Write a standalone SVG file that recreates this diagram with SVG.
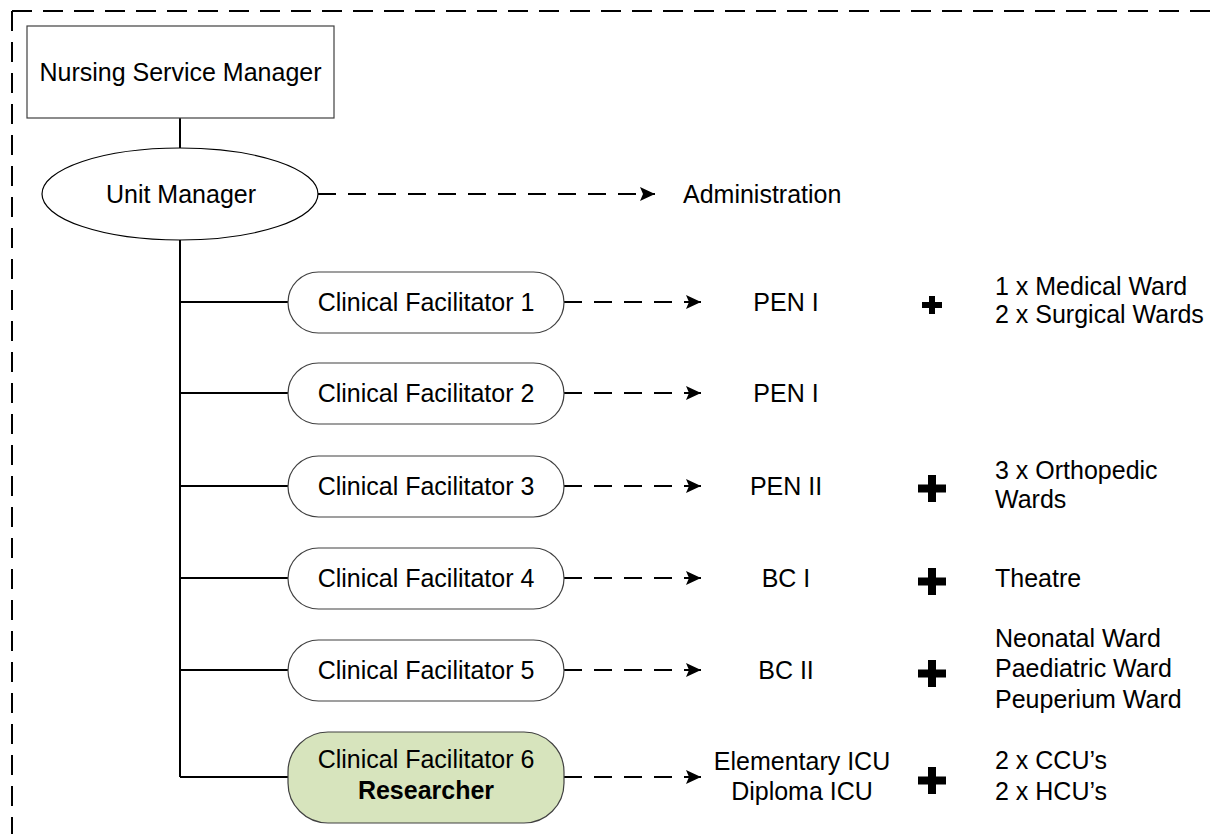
<svg xmlns="http://www.w3.org/2000/svg" width="1220" height="834" viewBox="0 0 1220 834">
<style>
text{font-family:"Liberation Sans",Arial,sans-serif;font-size:25px;fill:#000}
.c{text-anchor:middle}
.b{font-weight:bold}
.pill{fill:#fff;stroke:#404040;stroke-width:1.2}
.solid{stroke:#000;stroke-width:2;fill:none}
.dash{stroke:#000;stroke-width:2;fill:none;stroke-dasharray:18 12;marker-end:url(#ah)}
.plus{fill:#000}
</style>
<defs>
<marker id="ah" markerUnits="userSpaceOnUse" markerWidth="16" markerHeight="14" refX="15" refY="7" orient="auto">
<path d="M0,0 L15,7 L0,14 L3,7 Z" fill="#000"/>
</marker>
</defs>
<rect width="1220" height="834" fill="#fff"/>
<g id="frame" fill="none" stroke="#000" stroke-width="2" stroke-dasharray="20 11">
<path d="M12,11 V834"/>
<path d="M12,11 H1220"/>
</g>
<g id="connectors">
<path class="solid" d="M180,118 V148"/>
<path class="solid" d="M180,240 V777"/>
<path class="solid" d="M180,302 H288"/>
<path class="solid" d="M180,393 H288"/>
<path class="solid" d="M180,486 H288"/>
<path class="solid" d="M180,578 H288"/>
<path class="solid" d="M180,670 H288"/>
<path class="solid" d="M180,777 H288"/>
<path class="dash" d="M318,194 H655"/>
<path class="dash" d="M564,302 H701"/>
<path class="dash" d="M564,393 H701"/>
<path class="dash" d="M564,486 H701"/>
<path class="dash" d="M564,578 H701"/>
<path class="dash" d="M564,670 H701"/>
<path class="dash" d="M564,777 H701"/>
</g>
<g id="nsm">
<rect x="27" y="26" width="307" height="92" fill="#fff" stroke="#404040" stroke-width="1.2"/>
<text class="c" x="180.5" y="81">Nursing Service Manager</text>
</g>
<g id="unit-manager">
<ellipse cx="180" cy="194" rx="138" ry="46" fill="#fff" stroke="#000" stroke-width="1.2"/>
<text class="c" x="181" y="203">Unit Manager</text>
</g>
<g id="administration">
<text x="683" y="203">Administration</text>
</g>
<g id="cf1">
<rect class="pill" x="288" y="272" width="276" height="61" rx="30.5"/>
<text class="c" x="426" y="311">Clinical Facilitator 1</text>
</g>
<g id="cf2">
<rect class="pill" x="288" y="363" width="276" height="61" rx="30.5"/>
<text class="c" x="426" y="402">Clinical Facilitator 2</text>
</g>
<g id="cf3">
<rect class="pill" x="288" y="456" width="276" height="61" rx="30.5"/>
<text class="c" x="426" y="495">Clinical Facilitator 3</text>
</g>
<g id="cf4">
<rect class="pill" x="288" y="548" width="276" height="61" rx="30.5"/>
<text class="c" x="426" y="587">Clinical Facilitator 4</text>
</g>
<g id="cf5">
<rect class="pill" x="288" y="640" width="276" height="61" rx="30.5"/>
<text class="c" x="426" y="679">Clinical Facilitator 5</text>
</g>
<g id="cf6">
<rect x="288" y="732" width="276" height="91" rx="40" fill="#d7e4bd" stroke="#404040" stroke-width="1.2"/>
<text class="c" x="426" y="768">Clinical Facilitator 6</text>
<text class="c b" x="426" y="799">Researcher</text>
</g>
<g id="pen1a"><text class="c" x="786" y="311">PEN I</text></g>
<g id="pen1b"><text class="c" x="786" y="402">PEN I</text></g>
<g id="pen2"><text class="c" x="786" y="495">PEN II</text></g>
<g id="bc1"><text class="c" x="786" y="587">BC I</text></g>
<g id="bc2"><text class="c" x="786" y="679">BC II</text></g>
<g id="icu">
<text class="c" x="802" y="770">Elementary ICU</text>
<text class="c" x="802" y="800">Diploma ICU</text>
</g>
<g id="plus1"><path class="plus" d="M929,296 h6 v6 h7 v6 h-7 v6 h-6 v-6 h-7 v-6 h7 z"/></g>
<g id="plus3"><path class="plus" d="M928,475 h8 v9.5 h10 v8 h-10 v9.5 h-8 v-9.5 h-10 v-8 h10 z"/></g>
<g id="plus4"><path class="plus" d="M928,568 h8 v9.5 h10 v8 h-10 v9.5 h-8 v-9.5 h-10 v-8 h10 z"/></g>
<g id="plus5"><path class="plus" d="M928,660 h8 v9.5 h10 v8 h-10 v9.5 h-8 v-9.5 h-10 v-8 h10 z"/></g>
<g id="plus6"><path class="plus" d="M928,767 h8 v9.5 h10 v8 h-10 v9.5 h-8 v-9.5 h-10 v-8 h10 z"/></g>
<g id="wards1">
<text x="995" y="295">1 x Medical Ward</text>
<text x="995" y="323">2 x Surgical Wards</text>
</g>
<g id="wards3">
<text x="995" y="479">3 x Orthopedic</text>
<text x="995" y="508">Wards</text>
</g>
<g id="wards4"><text x="995" y="587">Theatre</text></g>
<g id="wards5">
<text x="995" y="647">Neonatal Ward</text>
<text x="995" y="677">Paediatric Ward</text>
<text x="995" y="708">Peuperium Ward</text>
</g>
<g id="wards6">
<text x="995" y="769">2 x CCU’s</text>
<text x="995" y="800">2 x HCU’s</text>
</g>
</svg>
